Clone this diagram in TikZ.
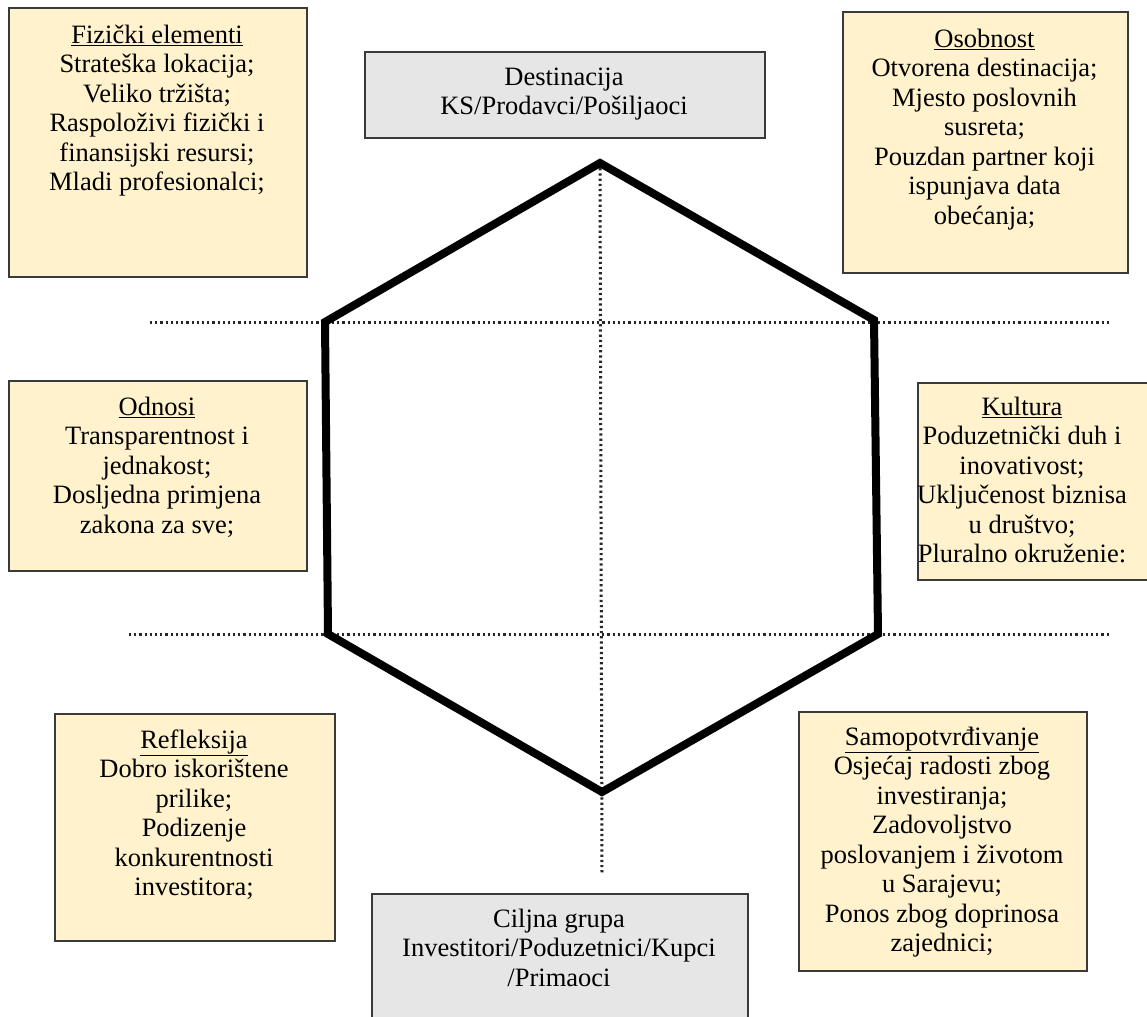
\documentclass[tikz,border=0pt]{standalone}
\usepackage{fontspec}
\setmainfont{Liberation Serif}
\definecolor{panelgold}{HTML}{FFF2CC}
\definecolor{panelgray}{HTML}{E6E6E6}
\definecolor{frame}{HTML}{3A3A3A}
\newcommand{\lnstrut}{\rule{0pt}{21pt}}
\begin{document}
\begin{tikzpicture}[x=1pt,y=-1pt,
  panel/.style={draw=frame, line width=1.6pt, fill=panelgold, anchor=north west, inner sep=0pt},
  graypanel/.style={panel, fill=panelgray},
  txt/.style={anchor=north, inner sep=0pt, align=center, font=\fontsize{26.5}{29.5}\selectfont},
  guide/.style={draw=black!85, line width=3pt, dash pattern=on 2.2pt off 3pt},
  hexline/.style={draw=black, line width=8pt, line join=miter}]
\useasboundingbox (0,0) rectangle (1147,1016);
\fill[white] (0,0) rectangle (1147,1016);

% hexagon corners
\coordinate (hT)  at (600,163);
\coordinate (hUL) at (325,322);
\coordinate (hLL) at (328,634);
\coordinate (hB)  at (602,792);
\coordinate (hLR) at (878,634);
\coordinate (hUR) at (874,320);

% ends of the dotted guide lines
\coordinate (gUa) at (150,322);
\coordinate (gUb) at (1110,322);
\coordinate (gLa) at (129,634);
\coordinate (gLb) at (1110,634);
\coordinate (gVb) at (602,875);

\draw[guide] (gUa) -- (gUb);
\draw[guide] (gLa) -- (gLb);
\draw[guide] (hT) -- (gVb);

\draw[hexline] (hT) -- (hUR) -- (hLR) -- (hB) -- (hLL) -- (hUL) -- cycle;

% panels
\node[panel, minimum width=298pt, minimum height=269pt] (fizbox) at (8,7) {};
\node[txt] (fiztxt) at (157,22) {\lnstrut\underline{Fizički elementi}\\Strateška lokacija;\\Veliko tržišta;\\Raspoloživi fizički i\\finansijski resursi;\\Mladi profesionalci;};

\node[panel, minimum width=285pt, minimum height=261pt] (osobox) at (842,11) {};
\node[txt] (osotxt) at (984.5,26) {\lnstrut\underline{Osobnost}\\Otvorena destinacija;\\Mjesto poslovnih\\susreta;\\Pouzdan partner koji\\ispunjava data\\obećanja;};

\node[panel, minimum width=298pt, minimum height=190pt] (odnbox) at (8,380) {};
\node[txt] (odntxt) at (157,394) {\lnstrut\underline{Odnosi}\\Transparentnost i\\jednakost;\\Dosljedna primjena\\zakona za sve;};

\node[panel, minimum width=232pt, minimum height=197pt] (kulbox) at (917,382) {};
\node[txt] (kultxt) at (1022,394) {\lnstrut\underline{Kultura}\\Poduzetnički duh i\\inovativost;\\Uključenost biznisa\\u društvo;\\Pluralno okruženie:};

\node[panel, minimum width=280pt, minimum height=227pt] (refbox) at (54,713) {};
\node[txt] (reftxt) at (194,727) {\lnstrut\underline{Refleksija}\\Dobro iskorištene\\prilike;\\Podizenje\\konkurentnosti\\investitora;};

\node[panel, minimum width=288pt, minimum height=259pt] (sambox) at (798,711) {};
\begin{scope}
  \clip (800,713) rectangle (1084,956);
  \node[txt] (samtxt) at (942,724) {\lnstrut\underline{Samopotvrđivanje}\\Osjećaj radosti zbog\\investiranja;\\Zadovoljstvo\\poslovanjem i životom\\u Sarajevu;\\Ponos zbog doprinosa\\zajednici;};
\end{scope}

\node[graypanel, minimum width=400pt, minimum height=86pt] (desbox) at (364,51) {};
\node[txt] (destxt) at (564,64) {\lnstrut Destinacija\\KS/Prodavci/Pošiljaoci};

\node[graypanel, minimum width=376pt, minimum height=130pt] (cilbox) at (371,893) {};
\node[txt] (ciltxt) at (559,906) {\lnstrut Ciljna grupa\\Investitori/Poduzetnici/Kupci\\/Primaoci};
\end{tikzpicture}
\end{document}
